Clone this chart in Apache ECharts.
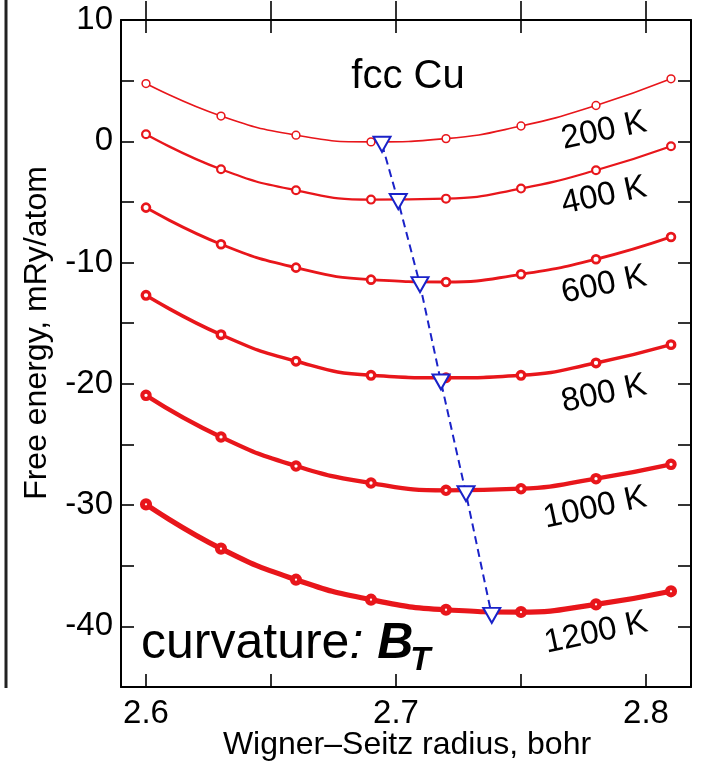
<!DOCTYPE html>
<html>
<head>
<meta charset="utf-8">
<script src="https://cdn.jsdelivr.net/npm/echarts@6/dist/echarts.min.js"></script>
<style>
  html, body { margin: 0; padding: 0; background: #fff; overflow: hidden; }
  #chart { width: 701px; height: 762px; }
</style>
</head>
<body>
<div id="chart"></div>
<script>
// Wigner–Seitz radius (bohr) at which the free energy was evaluated
const radius = [2.60, 2.63, 2.66, 2.69, 2.72, 2.75, 2.78, 2.81];

// Free energy (mRy/atom) for each temperature
const temperatures = ['200 K', '400 K', '600 K', '800 K', '1000 K', '1200 K'];
const energy200 = [4.76, 2.08, 0.50, -0.05, 0.22, 1.26, 2.95, 5.15];
const energy400 = [0.58, -2.31, -4.04, -4.81, -4.73, -3.90, -2.39, -0.41];
const energy600 = [-5.47, -8.49, -10.42, -11.41, -11.60, -10.97, -9.73, -7.89];
const energy800 = [-12.70, -15.95, -18.14, -19.30, -19.50, -19.30, -18.28, -16.77];
const energy1000 = [-20.95, -24.38, -26.78, -28.18, -28.78, -28.65, -27.82, -26.64];
const energy1200 = [-29.94, -33.59, -36.15, -37.80, -38.63, -38.82, -38.19, -37.11];

// Equilibrium (minimum) of each free-energy curve
const minRadius = [2.6944, 2.7009, 2.7096, 2.7180, 2.7280, 2.7383];
const minEnergy = [-0.25, -4.97, -11.82, -19.85, -29.06, -39.09];

// Axis ticks and labels
const xTicks = [2.60, 2.65, 2.70, 2.75, 2.80];
const xLabels = [2.6, 2.7, 2.8];

const energySets = [energy200, energy400, energy600, energy800, energy1000, energy1200];

const RED = '#e8161b';
const BLUE = '#1a22c8';
const FONT = "'Liberation Sans', Arial, Helvetica, sans-serif";
const lineWidths = [1.6, 2.3, 2.9, 3.5, 4.3, 5.2];
const markerSizes = [7.8, 7.8, 7.8, 7.6, 7.4, 7.2];

const chart = echarts.init(document.getElementById('chart'), null, { renderer: 'canvas', width: 701, height: 762 });

const curveSeries = energySets.map((vals, i) => ({
  name: temperatures[i],
  type: 'line',
  data: radius.map((r, j) => [r, vals[j]]),
  smooth: true,
  symbol: 'circle',
  symbolSize: markerSizes[i],
  showAllSymbol: true,
  lineStyle: { color: RED, width: lineWidths[i] },
  itemStyle: { color: '#fff', borderColor: RED, borderWidth: lineWidths[i] * 0.95 },
  emphasis: { disabled: true },
  z: 2
}));

const minimaSeries = {
  name: 'minimum',
  type: 'line',
  data: minRadius.map((r, i) => [r, minEnergy[i]]),
  symbol: 'triangle',
  symbolRotate: 180,
  symbolSize: [17, 15],
  lineStyle: { color: BLUE, width: 2, type: [8, 5] },
  itemStyle: { color: '#fff', borderColor: BLUE, borderWidth: 2 },
  emphasis: { disabled: true },
  z: 5
};

// Text width helper for placing the subscript
function textWidth(str, font) {
  const c = document.createElement('canvas').getContext('2d');
  c.font = font;
  return c.measureText(str).width;
}

const curvX = 141;
const curvY = 644;
const curvSize = 50;
const curvPrefixW = textWidth('curvature', curvSize + 'px ' + FONT) +
                    textWidth(': ', 'italic ' + curvSize + 'px ' + FONT) +
                    textWidth('B', 'italic bold ' + curvSize + 'px ' + FONT);

// Temperature labels beside each curve
const tempLabelPos = [[604, 131], [604, 196], [604, 285], [604, 394], [595, 508], [596, 633]];

const graphics = [
  // border of the neighbouring panel
  { type: 'line', shape: { x1: 6, y1: 0, x2: 6, y2: 688 }, style: { stroke: '#222', lineWidth: 3 }, silent: true },
  {
    type: 'text', x: 408, y: 77,
    style: { text: 'fcc Cu', font: '40px ' + FONT, fill: '#000', align: 'center', verticalAlign: 'middle' }
  },
  {
    type: 'text', x: 37, y: 333, rotation: Math.PI / 2,
    style: { text: 'Free energy, mRy/atom', font: '32px ' + FONT, fill: '#000', align: 'center', verticalAlign: 'middle' }
  },
  {
    type: 'text', x: 407, y: 745,
    style: { text: 'Wigner\u2013Seitz radius, bohr', font: '32px ' + FONT, fill: '#000', align: 'center', verticalAlign: 'middle' }
  },
  {
    type: 'text', x: curvX, y: curvY,
    style: {
      text: '{n|curvature}{c|: }{b|B}',
      verticalAlign: 'middle', align: 'left',
      rich: {
        n: { fontFamily: FONT, fontSize: curvSize, fill: '#000' },
        c: { fontFamily: FONT, fontSize: curvSize, fontStyle: 'italic', fill: '#000' },
        b: { fontFamily: FONT, fontSize: curvSize, fontStyle: 'italic', fontWeight: 'bold', fill: '#000' }
      }
    }
  },
  {
    type: 'text', x: curvX + curvPrefixW - 3, y: curvY + 17,
    style: { text: 'T', font: 'italic bold 33px ' + FONT, fill: '#000', align: 'left', verticalAlign: 'middle' }
  }
].concat(temperatures.map((t, i) => ({
  type: 'text', x: tempLabelPos[i][0], y: tempLabelPos[i][1], rotation: 12 * Math.PI / 180,
  style: { text: t, font: '33px ' + FONT, fill: '#000', align: 'center', verticalAlign: 'middle' }
})));

const axisLine = { show: true, onZero: false, lineStyle: { color: '#000', width: 2 } };
const xRange = { type: 'value', min: 2.59, max: 2.818 };

const option = {
  animation: false,
  backgroundColor: '#fff',
  grid: { left: 121, top: 20, width: 570, height: 667, containLabel: false, outerBoundsMode: 'none' },
  xAxis: [
    Object.assign({}, xRange, {
      position: 'bottom',
      axisLine: axisLine,
      axisTick: { show: true, inside: true, length: 13, lineStyle: { color: '#000', width: 1.6 }, customValues: xTicks },
      axisLabel: {
        show: true, customValues: xLabels, margin: 10,
        formatter: v => v.toFixed(1), fontSize: 33, fontFamily: FONT, color: '#000'
      },
      splitLine: { show: false }
    }),
    Object.assign({}, xRange, {
      position: 'top',
      axisLine: axisLine,
      axisTick: { show: true, inside: true, length: 13, lineStyle: { color: '#000', width: 1.6 }, customValues: xTicks },
      axisLabel: { show: false },
      splitLine: { show: false }
    }),
    Object.assign({}, xRange, {
      position: 'top',
      axisLine: { show: false, onZero: false },
      axisTick: { show: true, inside: false, length: 19, lineStyle: { color: '#000', width: 1.6 }, customValues: xTicks },
      axisLabel: { show: false },
      splitLine: { show: false }
    })
  ],
  yAxis: [
    {
      type: 'value', position: 'left', min: -45, max: 10, interval: 5,
      axisLine: axisLine,
      axisTick: { show: true, inside: true, length: 13, lineStyle: { color: '#000', width: 1.6 } },
      axisLabel: {
        show: true, margin: 8, fontSize: 33, fontFamily: FONT, color: '#000',
        formatter: v => (v % 10 === 0 ? String(v) : '')
      },
      splitLine: { show: false }
    },
    {
      type: 'value', position: 'right', min: -45, max: 10, interval: 5,
      axisLine: axisLine,
      axisTick: { show: true, inside: true, length: 13, lineStyle: { color: '#000', width: 1.6 } },
      axisLabel: { show: false },
      splitLine: { show: false }
    }
  ],
  series: curveSeries.concat([minimaSeries]),
  graphic: graphics
};

chart.setOption(option);
</script>
</body>
</html>
